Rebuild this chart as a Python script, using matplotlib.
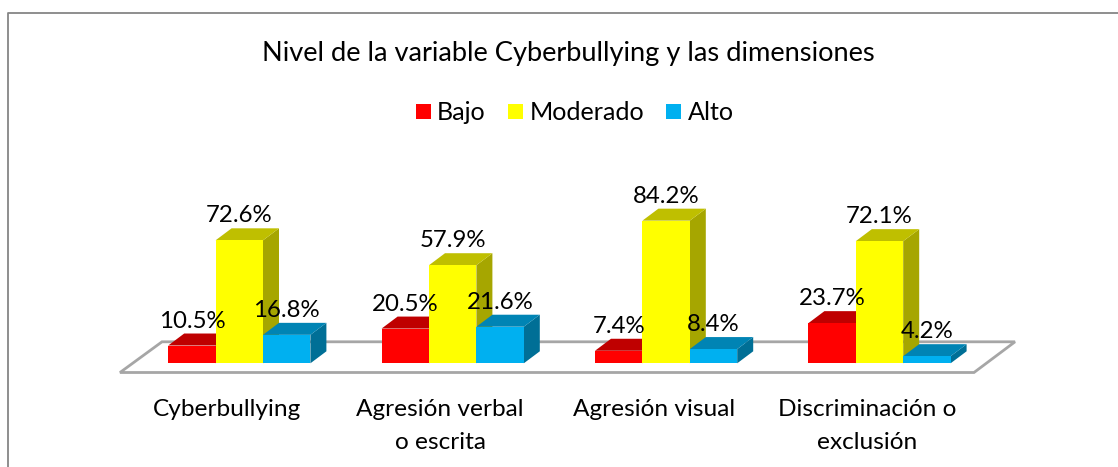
import matplotlib
matplotlib.use('Agg')
import matplotlib.pyplot as plt
from matplotlib.patches import Polygon, Rectangle
from matplotlib.lines import Line2D
import numpy as np

plt.rcParams['font.family'] = ['Lato', 'DejaVu Sans']

title = 'Nivel de la variable Cyberbullying y las dimensiones'
categories = ['Cyberbullying', 'Agresión verbal\no escrita', 'Agresión visual', 'Discriminación o\nexclusión']
series_names = ['Bajo', 'Moderado', 'Alto']
bajo = [10.5, 20.5, 7.4, 23.7]
moderado = [72.6, 57.9, 84.2, 72.1]
alto = [16.8, 21.6, 8.4, 4.2]

front_colors = ['#ff0000', '#ffff00', '#00b0f0']
top_colors = ['#bf0000', '#bfbf00', '#0084b4']
side_colors = ['#a00000', '#a6a600', '#006f96']

W, H = 1118, 467
fig = plt.figure(figsize=(W / 100, H / 100), dpi=100)
# axes in pixels, bars get scaled from percent below
ax = fig.add_axes([0, 0, 1, 1])
ax.set_xlim(0, W)
ax.set_ylim(H, 0)
ax.axis('off')

base_y = 363.3
px_per_pct = 1.694
bar_w = 47.4
group_step = 213.4
first_x = 168.2
dx, dy = 16, -12

# outer frame, only top and left show
ax.add_line(Line2D([7.5, 7.5, 1118], [467, 12.5, 12.5], color='#868686', lw=1.3))

# floor
floor = [(120, 372.5), (974, 372.5), (1015, 341.8), (162, 341.8)]
ax.add_patch(Polygon(floor, closed=True, fc='white', ec='#a6a6a6', lw=2, zorder=1))

series = [bajo, moderado, alto]
for i in range(len(categories)):
    for j, vals in enumerate(series):
        x = first_x + i * group_step + j * bar_w
        top = base_y - vals[i] * px_per_pct
        # drawn left to right so the next bar covers the side of this one
        z = 2 + j * 0.1
        ax.add_patch(Polygon([(x + bar_w, base_y), (x + bar_w + dx, base_y + dy),
                              (x + bar_w + dx, top + dy), (x + bar_w, top)],
                             closed=True, fc=side_colors[j], ec='none', zorder=z))
        ax.add_patch(Polygon([(x, top), (x + dx, top + dy), (x + bar_w + dx, top + dy), (x + bar_w, top)],
                             closed=True, fc=top_colors[j], ec='none', zorder=z))
        ax.add_patch(Rectangle((x, top), bar_w, base_y - top, fc=front_colors[j], ec='none', zorder=z))

# labels go above the bars
for i in range(len(categories)):
    for j, vals in enumerate(series):
        x = first_x + i * group_step + j * bar_w + bar_w / 2
        top = base_y - vals[i] * px_per_pct
        ax.text(x, top + dy - 2, '%.1f%%' % vals[i], ha='center', va='bottom', fontsize=17.3, color='black', zorder=5)
    cx = first_x + i * group_step + 1.5 * bar_w - 12.5
    ax.text(cx, 399, categories[i], ha='center', va='top', fontsize=17.6, color='black', linespacing=1.7)

ax.text(568.5, 53, title, ha='center', va='center', fontsize=19.6, color='black')

# legend
leg_x = [416, 508, 666]
text_x = [437, 530, 688]
for name, c, lx, tx in zip(series_names, front_colors, leg_x, text_x):
    ax.add_patch(Rectangle((lx, 104), 15, 15, fc=c, ec='none'))
    ax.text(tx, 112, name, ha='left', va='center', fontsize=18.1, color='black')

fig.savefig('out.png', dpi=100)
